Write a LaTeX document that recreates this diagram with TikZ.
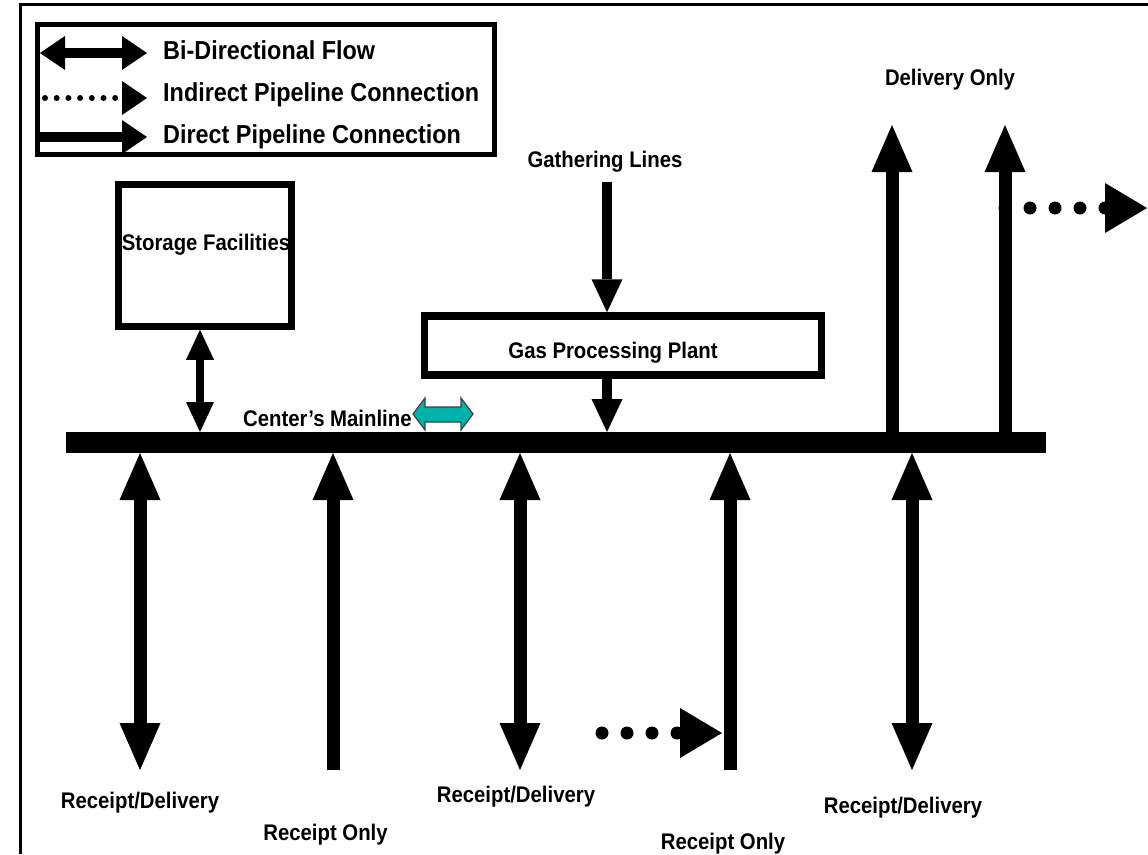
\documentclass[tikz,border=0pt]{standalone}
\usepackage{fontspec}
\setmainfont{Liberation Sans}[FakeStretch=0.9]
\usetikzlibrary{arrows.meta}
\definecolor{flowteal}{RGB}{0,178,170}

\begin{document}
\begin{tikzpicture}[x=1pt,y=-1pt,
  % arrow heads
  bigtip/.tip={Triangle[length=47pt,width=41pt,line width=0pt]},
  dottip/.tip={Triangle[length=42pt,width=50pt,line width=0pt]},
  midtip/.tip={Triangle[length=33pt,width=31pt,line width=0pt]},
  smalltip/.tip={Triangle[length=30pt,width=28pt,line width=0pt]},
  keytip/.tip={Triangle[length=25pt,width=34pt,line width=0pt]},
  % pipes
  bipipe/.style={line width=13pt, arrows={bigtip-bigtip}},
  uppipe/.style={line width=13pt, arrows={-bigtip}},
  dotpipe/.style={line width=13pt, line cap=round, dash pattern=on 0pt off 25pt, arrows={-dottip}},
  feedpipe/.style={line width=10pt, arrows={-midtip}},
  storepipe/.style={line width=8pt, arrows={smalltip-smalltip}},
  % boxes and text
  facility/.style={draw, fill=white, inner sep=0pt},
  lbl/.style={font=\fontsize{22.6}{26}\selectfont\bfseries, inner sep=0pt},
  keytext/.style={font=\fontsize{26}{30}\selectfont\bfseries, inner sep=0pt, anchor=base west}]

\useasboundingbox (0,0) rectangle (1148,854);

% outer frame
\draw[line width=3pt] (20,854) -- (20,4.5) -- (1148,4.5);

% legend
\node[draw, line width=5pt, minimum width=457pt, minimum height=130pt, inner sep=0pt] (legend) at (266,89.5) {};
\coordinate (kbiL) at (40,53);
\coordinate (kbiR) at (147,53);
\coordinate (kindL) at (45,98);
\coordinate (kindR) at (147,98);
\coordinate (kdirL) at (38,137);
\coordinate (kdirR) at (147,137);
\draw[line width=10pt, arrows={keytip-keytip}] (kbiL) -- (kbiR);
\draw[line width=6pt, line cap=round, dash pattern=on 0pt off 11.7pt, arrows={-keytip}] (kindL) -- (kindR);
\draw[line width=10pt, arrows={-keytip}] (kdirL) -- (kdirR);
\node[keytext] (kbi) at (163,59) {Bi-Directional Flow};
\node[keytext] (kind) at (163,101) {Indirect Pipeline Connection};
\node[keytext] (kdir) at (163,143) {Direct Pipeline Connection};

% mainline
\node[fill=black, minimum width=980pt, minimum height=21pt, inner sep=0pt, outer sep=0pt] (main) at (556,442.5) {};
\node[lbl, anchor=base west] (mainlabel) at (243,426) {Center’s Mainline};
\draw[fill=flowteal, draw=black!75, line width=1.2pt]
  (413,414) -- (425,398) -- (425,407) -- (461,407) -- (461,398) -- (473,414)
  -- (461,430) -- (461,422) -- (425,422) -- (425,430) -- cycle;

% storage
\node[facility, line width=6.5pt, minimum width=173pt, minimum height=142pt] (storage) at (205,255.5) {};
\node[lbl, anchor=base] (storagetext) at (206,250) {Storage Facilities};
\draw[storepipe] ([xshift=-5pt]storage.south) -- ([xshift=-5pt]storage.south |- main.north);

% gathering lines and processing plant
\node[lbl, anchor=base] (gather) at (605,167) {Gathering Lines};
\coordinate (gstart) at (607,182);
\node[facility, line width=7.5pt, minimum width=397pt, minimum height=59pt] (gpp) at (623,345.5) {};
\node[lbl, anchor=base] (gpptext) at (613,358) {Gas Processing Plant};
\draw[feedpipe] (gstart) -- (gstart |- gpp.north);
\draw[feedpipe] (gstart |- gpp.south) -- (gstart |- main.north);

% delivery only
\node[lbl, anchor=base] (delonly) at (950,85) {Delivery Only};
\coordinate (d1) at (892,125);
\coordinate (d2) at (1005,125);
\draw[uppipe] (d1 |- main.north) -- (d1);
\draw[uppipe] (d2 |- main.north) -- (d2);
\coordinate (rdotend) at (1147,208);
\draw[dotpipe] (rdotend -| d2) -- (rdotend);

% receipt and delivery points
\coordinate (b1) at (140,770);
\coordinate (b2) at (333,770);
\coordinate (b3) at (520,770);
\coordinate (b4) at (730,770);
\coordinate (b5) at (912,770);
\draw[bipipe] (b1 |- main.south) -- (b1);
\draw[uppipe] (b2) -- (b2 |- main.south);
\draw[bipipe] (b3 |- main.south) -- (b3);
\draw[uppipe] (b4) -- (b4 |- main.south);
\draw[bipipe] (b5 |- main.south) -- (b5);
\coordinate (ldotstart) at (602,733);
\draw[dotpipe] (ldotstart) -- ([xshift=-8pt]ldotstart -| b4);

\node[lbl, anchor=base] (rd1) at (140,808) {Receipt/Delivery};
\node[lbl, anchor=base] (ro1) at (325.5,840) {Receipt Only};
\node[lbl, anchor=base] (rd2) at (516,802) {Receipt/Delivery};
\node[lbl, anchor=base] (ro2) at (723,849) {Receipt Only};
\node[lbl, anchor=base] (rd3) at (903,813) {Receipt/Delivery};
\end{tikzpicture}
\end{document}
